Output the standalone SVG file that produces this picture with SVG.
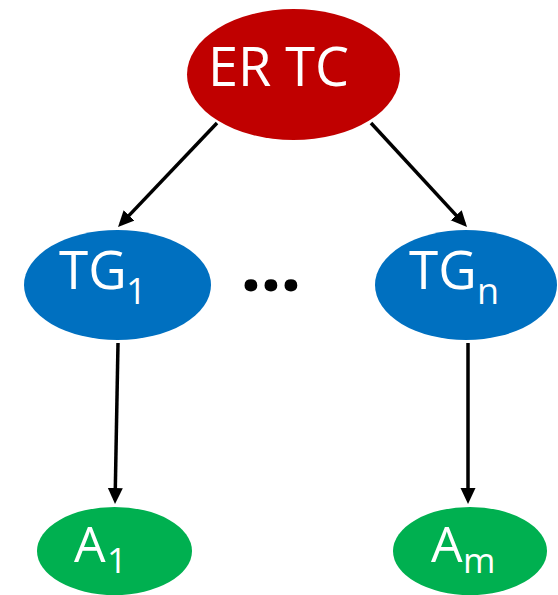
<svg xmlns="http://www.w3.org/2000/svg" width="558" height="595" viewBox="0 0 558 595">
  <style>
    .label { font-family: "Open Sans", "Noto Sans", "Liberation Sans", sans-serif; fill: #ffffff; }
    .edge { stroke: #000000; stroke-width: 3.5; fill: none; marker-end: url(#arrow); }
    .dots { font-family: "Noto Sans", "Open Sans", sans-serif; font-weight: bold; font-size: 74px; fill: #000000; }
  </style>
  <defs>
    <marker id="arrow" markerUnits="userSpaceOnUse" markerWidth="18" markerHeight="16" refX="12" refY="7.5" orient="auto">
      <path d="M0,0 L16,7.5 L0,15 Z" fill="#000000"/>
    </marker>
  </defs>

  <!-- root node -->
  <g id="er-tc">
    <ellipse cx="293.5" cy="74.5" rx="106.5" ry="65.5" fill="#C00000"/>
    <text class="label" x="208" y="86" font-size="54">ER TC</text>
  </g>

  <!-- task groups -->
  <g id="tg-1">
    <ellipse cx="117.5" cy="285" rx="93.5" ry="55" fill="#0070C0"/>
    <text class="label" x="59" y="289" font-size="53">TG</text>
    <text class="label" x="126" y="304" font-size="36">1</text>
  </g>
  <g id="tg-n">
    <ellipse cx="466" cy="285" rx="91" ry="55" fill="#0070C0"/>
    <text class="label" x="409" y="289" font-size="53">TG</text>
    <text class="label" x="477" y="304" font-size="36">n</text>
  </g>

  <text class="dots" text-anchor="middle" x="251 271 291" y="291">...</text>

  <!-- agents -->
  <g id="a-1">
    <ellipse cx="114.5" cy="551" rx="77.5" ry="44" fill="#00B050"/>
    <text class="label" x="74" y="562" font-size="50">A</text>
    <text class="label" x="107" y="573" font-size="35">1</text>
  </g>
  <g id="a-m">
    <ellipse cx="470" cy="551" rx="77" ry="44" fill="#00B050"/>
    <text class="label" x="431" y="562" font-size="50">A</text>
    <text class="label" x="463" y="573" font-size="35">m</text>
  </g>

  <!-- connectors -->
  <g id="edges">
    <path class="edge" d="M217,123 L120.8,224.1"/>
    <path class="edge" d="M371,123 L464.3,224.1"/>
    <path class="edge" d="M118,343 L115.1,500"/>
    <path class="edge" d="M468,343 L468,500"/>
  </g>
</svg>
